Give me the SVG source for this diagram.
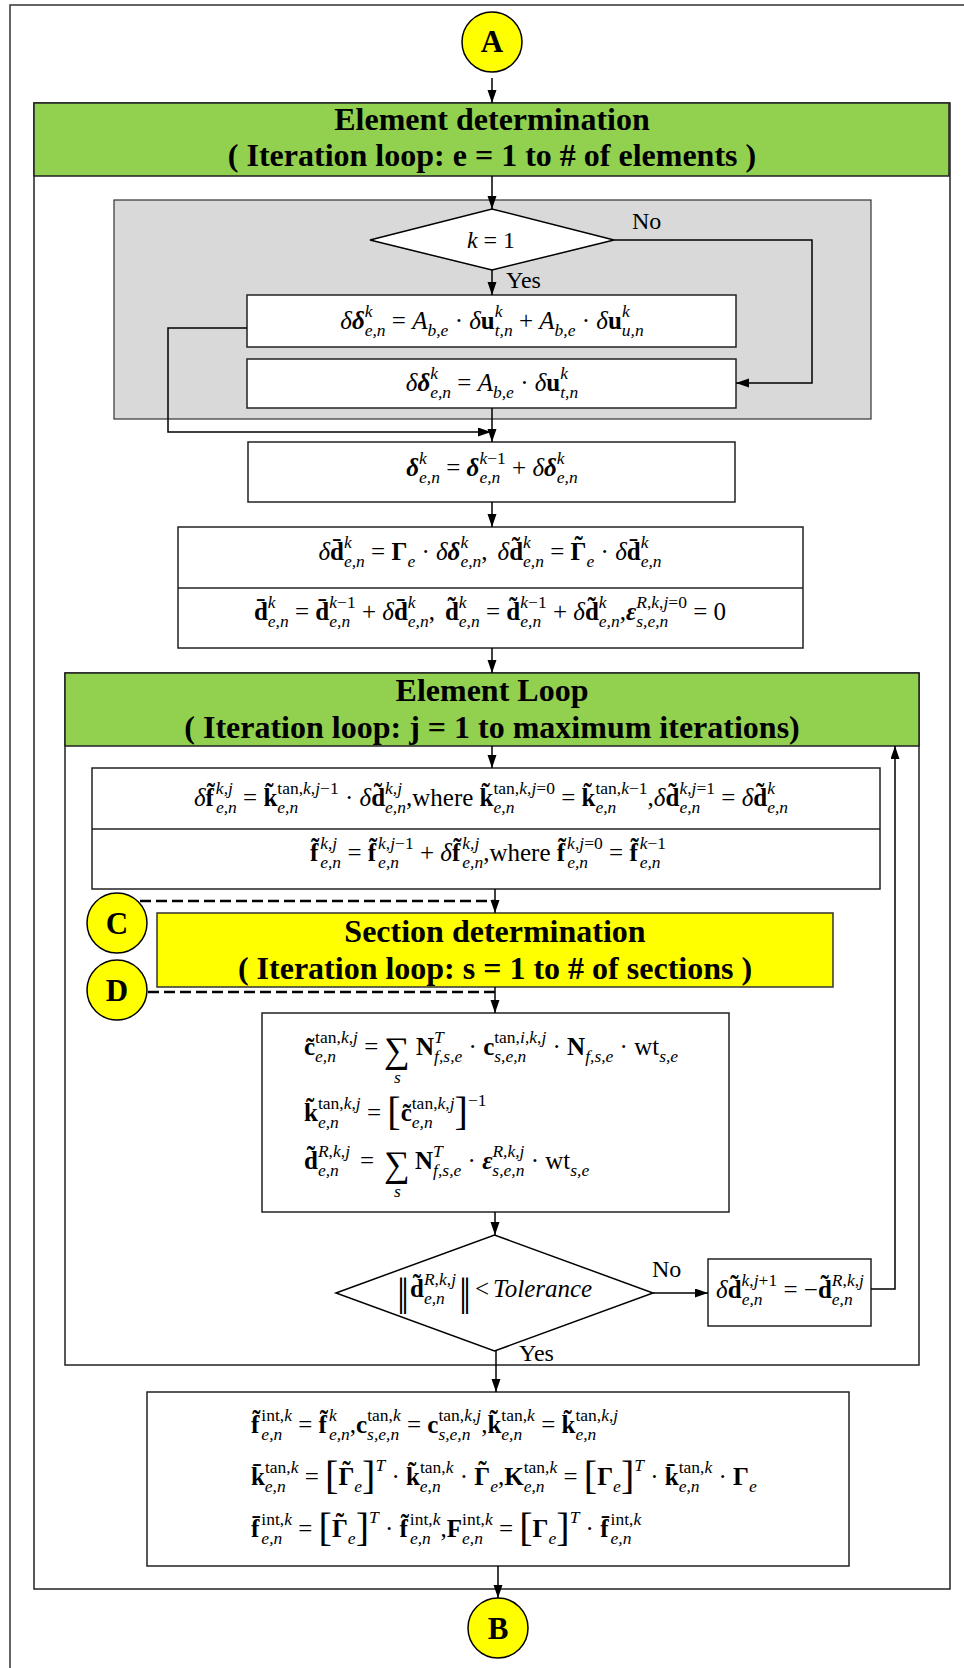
<svg xmlns="http://www.w3.org/2000/svg" width="964" height="1668" viewBox="0 0 964 1668">
<defs>
<style>
.f{font-family:"Liberation Serif","Times New Roman",serif;font-size:25px;fill:#000}
.t{font-family:"Liberation Serif","Times New Roman",serif;font-size:32px;font-weight:bold;fill:#000;text-anchor:middle}
.lbl{font-family:"Liberation Serif","Times New Roman",serif;font-size:24px;fill:#000}
.cl{font-family:"Liberation Serif","Times New Roman",serif;font-size:31px;font-weight:bold;fill:#000;text-anchor:middle}
.b{font-weight:bold}
.i{font-style:italic}
.bi{font-weight:bold;font-style:italic}
.s{font-size:17.5px}
.br{font-size:40px;font-weight:normal}
.box{fill:#fff;stroke:#222;stroke-width:1.5}
.circ{fill:#ff0;stroke:#000;stroke-width:1.5}
.conn path{stroke:#000;stroke-width:1.5;fill:none}
.conn .dash{stroke-dasharray:11 5;stroke-width:2.5}
.bar{font-family:"Liberation Serif",serif;font-size:40px;letter-spacing:-4px}
</style>
<marker id="ah" markerWidth="14" markerHeight="10" refX="13" refY="4.5" orient="auto" markerUnits="userSpaceOnUse"><path d="M0,0 L13,4.5 L0,9 z" fill="#000"/></marker>
</defs>
<rect x="0" y="0" width="964" height="1668" fill="#fff"/>
<rect x="10" y="5" width="1000" height="1700" fill="none" stroke="#333" stroke-width="1.5"/>

<g id="element-frame"><rect x="34" y="103" width="916" height="1486" class="box"/></g>
<g id="element-header"><rect x="34" y="103" width="915" height="73" fill="#92D050" stroke="#222" stroke-width="1.5"/><text class="t" x="492" y="130">Element determination</text><text class="t" x="492" y="166">( Iteration loop: e = 1 to # of elements )</text></g>

<g id="node-A"><ellipse cx="492" cy="42" rx="30" ry="30" class="circ"/><text class="cl" x="492" y="52">A</text></g>

<g id="gray-block"><rect x="114" y="200" width="757" height="219" fill="#D9D9D9" stroke="#333" stroke-width="1.2"/></g>

<g id="decision-k"><polygon points="370,240 492,209 614,240 492,270" fill="#fff" stroke="#000" stroke-width="1.5"/><text class="f" x="491" y="248" text-anchor="middle" style="font-size:24px"><tspan class="i">k</tspan> = 1</text></g>

<g id="box1"><rect x="247" y="295" width="489" height="52" class="box"/><text class="f" x="492" y="329" text-anchor="middle"><tspan class="i">δ</tspan><tspan class="bi">δ</tspan><tspan class="s i" dy="-12">k</tspan><tspan class="s i" dx="-7.8" dy="19">e,n</tspan><tspan dy="-7"> = </tspan><tspan class="i">A</tspan><tspan class="s i" dy="7">b,e</tspan><tspan dy="-7"> · </tspan><tspan class="i">δ</tspan><tspan class="b">u</tspan><tspan class="s i" dy="-12">k</tspan><tspan class="s i" dx="-7.8" dy="19">t,n</tspan><tspan dy="-7"> + </tspan><tspan class="i">A</tspan><tspan class="s i" dy="7">b,e</tspan><tspan dy="-7"> · </tspan><tspan class="i">δ</tspan><tspan class="b">u</tspan><tspan class="s i" dy="-12">k</tspan><tspan class="s i" dx="-7.8" dy="19">u,n</tspan></text></g>

<g id="box2"><rect x="247" y="359" width="489" height="49" class="box"/><text class="f" x="492" y="391" text-anchor="middle"><tspan class="i">δ</tspan><tspan class="bi">δ</tspan><tspan class="s i" dy="-12">k</tspan><tspan class="s i" dx="-7.8" dy="19">e,n</tspan><tspan dy="-7"> = </tspan><tspan class="i">A</tspan><tspan class="s i" dy="7">b,e</tspan><tspan dy="-7"> · </tspan><tspan class="i">δ</tspan><tspan class="b">u</tspan><tspan class="s i" dy="-12">k</tspan><tspan class="s i" dx="-7.8" dy="19">t,n</tspan></text></g>

<g id="box3"><rect x="248" y="442" width="487" height="60" class="box"/><text class="f" x="492" y="476" text-anchor="middle"><tspan class="bi">δ</tspan><tspan class="s i" dy="-12">k</tspan><tspan class="s i" dx="-7.8" dy="19">e,n</tspan><tspan dy="-7"> = </tspan><tspan class="bi">δ</tspan><tspan class="s" dy="-12"><tspan class="i">k</tspan>−1</tspan><tspan class="s i" dx="-26.4" dy="19">e,n</tspan><tspan dy="-7" dx="5.5"> + </tspan><tspan class="i">δ</tspan><tspan class="bi">δ</tspan><tspan class="s i" dy="-12">k</tspan><tspan class="s i" dx="-7.8" dy="19">e,n</tspan></text></g>

<g id="box4"><rect x="178" y="527" width="625" height="121" class="box"/><line x1="178" y1="588" x2="803" y2="588" stroke="#222" stroke-width="1.5"/><text class="f" x="490" y="560" text-anchor="middle"><tspan class="i">δ</tspan><tspan class="b">d&#x304;</tspan><tspan class="s i" dy="-12">k</tspan><tspan class="s i" dx="-7.8" dy="19">e,n</tspan><tspan dy="-7"> = </tspan><tspan class="b">Γ</tspan><tspan class="s i" dy="7">e</tspan><tspan dy="-7"> · </tspan><tspan class="i">δ</tspan><tspan class="bi">δ</tspan><tspan class="s i" dy="-12">k</tspan><tspan class="s i" dx="-7.8" dy="19">e,n</tspan><tspan dy="-7">,</tspan><tspan class="i" dx="10">δ</tspan><tspan class="b">d&#x303;</tspan><tspan class="s i" dy="-12">k</tspan><tspan class="s i" dx="-7.8" dy="19">e,n</tspan><tspan dy="-7"> = </tspan><tspan class="b">Γ</tspan><tspan class="b" dx="-12" dy="-6">˜</tspan><tspan class="s i" dx="3.7" dy="13">e</tspan><tspan dy="-7"> · </tspan><tspan class="i">δ</tspan><tspan class="b">d&#x304;</tspan><tspan class="s i" dy="-12">k</tspan><tspan class="s i" dx="-7.8" dy="19">e,n</tspan></text><text class="f" x="490" y="620" text-anchor="middle"><tspan class="b">d&#x304;</tspan><tspan class="s i" dy="-12">k</tspan><tspan class="s i" dx="-7.8" dy="19">e,n</tspan><tspan dy="-7"> = </tspan><tspan class="b">d&#x304;</tspan><tspan class="s" dy="-12"><tspan class="i">k</tspan>−1</tspan><tspan class="s i" dx="-26.4" dy="19">e,n</tspan><tspan dy="-7" dx="5.5"> + </tspan><tspan class="i">δ</tspan><tspan class="b">d&#x304;</tspan><tspan class="s i" dy="-12">k</tspan><tspan class="s i" dx="-7.8" dy="19">e,n</tspan><tspan dy="-7">,</tspan><tspan class="b" dx="10">d&#x303;</tspan><tspan class="s i" dy="-12">k</tspan><tspan class="s i" dx="-7.8" dy="19">e,n</tspan><tspan dy="-7"> = </tspan><tspan class="b">d&#x303;</tspan><tspan class="s" dy="-12"><tspan class="i">k</tspan>−1</tspan><tspan class="s i" dx="-26.4" dy="19">e,n</tspan><tspan dy="-7" dx="5.5"> + </tspan><tspan class="i">δ</tspan><tspan class="b">d&#x303;</tspan><tspan class="s i" dy="-12">k</tspan><tspan class="s i" dx="-7.8" dy="19">e,n</tspan><tspan dy="-7">,</tspan><tspan class="bi">ε</tspan><tspan class="s" dy="-12"><tspan class="i">R</tspan>,<tspan class="i">k</tspan>,<tspan class="i">j</tspan>=0</tspan><tspan class="s i" dx="-50.7" dy="19">s,e,n</tspan><tspan dy="-7" dx="18.6"> = 0</tspan></text></g>

<g id="loop-frame"><rect x="65" y="673" width="854" height="692" class="box"/></g>
<g id="loop-header"><rect x="65" y="673" width="854" height="73" fill="#92D050" stroke="#222" stroke-width="1.5"/><text class="t" x="492" y="701">Element Loop</text><text class="t" x="492" y="738">( Iteration loop: j = 1 to maximum iterations)</text></g>

<g id="box5"><rect x="92" y="768" width="788" height="121" class="box"/><line x1="92" y1="829" x2="880" y2="829" stroke="#222" stroke-width="1.5"/><text class="f" x="491" y="806" text-anchor="middle"><tspan class="i">δ</tspan><tspan class="b">f&#x303;</tspan><tspan class="s i" dx="2" dy="-12">k,j</tspan><tspan class="s i" dx="-17" dy="19">e,n</tspan><tspan dy="-7"> = </tspan><tspan class="b">k&#x303;</tspan><tspan class="s" dy="-12">tan,<tspan class="i">k</tspan>,<tspan class="i">j</tspan>−1</tspan><tspan class="s i" dx="-61.4" dy="19">e,n</tspan><tspan dy="-7" dx="40.5"> · </tspan><tspan class="i">δ</tspan><tspan class="b">d&#x303;</tspan><tspan class="s i" dy="-12">k,j</tspan><tspan class="s i" dx="-17" dy="19">e,n</tspan><tspan dy="-7">,where </tspan><tspan class="b">k&#x303;</tspan><tspan class="s" dy="-12">tan,<tspan class="i">k</tspan>,<tspan class="i">j</tspan>=0</tspan><tspan class="s i" dx="-61.4" dy="19">e,n</tspan><tspan dy="-7" dx="40.5"> = </tspan><tspan class="b">k&#x303;</tspan><tspan class="s" dy="-12">tan,<tspan class="i">k</tspan>−1</tspan><tspan class="s i" dx="-52.2" dy="19">e,n</tspan><tspan dy="-7" dx="31.3">,</tspan><tspan class="i">δ</tspan><tspan class="b">d&#x303;</tspan><tspan class="s" dy="-12"><tspan class="i">k</tspan>,<tspan class="i">j</tspan>=1</tspan><tspan class="s i" dx="-35.6" dy="19">e,n</tspan><tspan dy="-7" dx="14.7"> = </tspan><tspan class="i">δ</tspan><tspan class="b">d&#x303;</tspan><tspan class="s i" dy="-12">k</tspan><tspan class="s i" dx="-7.8" dy="19">e,n</tspan></text><text class="f" x="488" y="861" text-anchor="middle"><tspan class="b">f&#x303;</tspan><tspan class="s i" dx="2" dy="-12">k,j</tspan><tspan class="s i" dx="-17" dy="19">e,n</tspan><tspan dy="-7"> = </tspan><tspan class="b">f&#x303;</tspan><tspan class="s" dx="2" dy="-12"><tspan class="i">k</tspan>,<tspan class="i">j</tspan>−1</tspan><tspan class="s i" dx="-35.6" dy="19">e,n</tspan><tspan dy="-7" dx="14.7"> + </tspan><tspan class="i">δ</tspan><tspan class="b">f&#x303;</tspan><tspan class="s i" dx="2" dy="-12">k,j</tspan><tspan class="s i" dx="-17" dy="19">e,n</tspan><tspan dy="-7">,where </tspan><tspan class="b">f&#x303;</tspan><tspan class="s" dx="2" dy="-12"><tspan class="i">k</tspan>,<tspan class="i">j</tspan>=0</tspan><tspan class="s i" dx="-35.6" dy="19">e,n</tspan><tspan dy="-7" dx="14.7"> = </tspan><tspan class="b">f&#x303;</tspan><tspan class="s" dx="2" dy="-12"><tspan class="i">k</tspan>−1</tspan><tspan class="s i" dx="-26.4" dy="19">e,n</tspan></text></g>

<g id="node-C"><ellipse cx="117" cy="923" rx="30" ry="30" class="circ"/><text class="cl" x="117" y="934">C</text></g>
<g id="node-D"><ellipse cx="117" cy="990" rx="30" ry="30" class="circ"/><text class="cl" x="117" y="1001">D</text></g>

<g id="section-header"><rect x="157" y="913" width="676" height="74" fill="#FFFF00" stroke="#333" stroke-width="1.5"/><text class="t" x="495" y="942">Section determination</text><text class="t" x="495" y="979">( Iteration loop: s = 1 to # of sections )</text></g>

<g id="box6"><rect x="262" y="1013" width="467" height="199" class="box"/><text class="f" x="304" y="1055"><tspan class="b">c&#x303;</tspan><tspan class="s" dy="-12">tan,<tspan class="i">k</tspan>,<tspan class="i">j</tspan></tspan><tspan class="s i" dx="-42.8" dy="19">e,n</tspan><tspan dy="-7" dx="21.9"> =</tspan></text><text class="f" x="384" y="1062" style="font-size:36px">∑</text><text class="f i" x="394" y="1083" style="font-size:17.5px">s</text><text class="f" x="416" y="1055"><tspan class="b">N</tspan><tspan class="s i" dy="-12">T</tspan><tspan class="s i" dx="-9.7" dy="19">f,s,e</tspan><tspan dy="-7"> · </tspan><tspan class="b">c</tspan><tspan class="s" dy="-12">tan,<tspan class="i">i</tspan>,<tspan class="i">k</tspan>,<tspan class="i">j</tspan></tspan><tspan class="s i" dx="-52" dy="19">s,e,n</tspan><tspan dy="-7" dx="19.9"> · </tspan><tspan class="b">N</tspan><tspan class="s i" dy="7">f,s,e</tspan><tspan dy="-7"> · wt</tspan><tspan class="s i" dy="7">s,e</tspan></text><text class="f" x="304" y="1121"><tspan class="b">k&#x303;</tspan><tspan class="s" dy="-12">tan,<tspan class="i">k</tspan>,<tspan class="i">j</tspan></tspan><tspan class="s i" dx="-42.8" dy="19">e,n</tspan><tspan dy="-7" dx="21.9"> = </tspan><tspan class="br" dy="4">[</tspan><tspan class="b" dy="-4">c&#x303;</tspan><tspan class="s" dy="-12">tan,<tspan class="i">k</tspan>,<tspan class="i">j</tspan></tspan><tspan class="s i" dx="-42.8" dy="19">e,n</tspan><tspan class="br" dy="-3" dx="21.9">]</tspan><tspan class="s" dy="-19">−1</tspan></text><text class="f" x="304" y="1169"><tspan class="b">d&#x303;</tspan><tspan class="s" dy="-12"><tspan class="i">R</tspan>,<tspan class="i">k</tspan>,<tspan class="i">j</tspan></tspan><tspan class="s i" dx="-32.1" dy="19">e,n</tspan><tspan dy="-7" dx="15"> =</tspan></text><text class="f" x="384" y="1176" style="font-size:36px">∑</text><text class="f i" x="394" y="1197" style="font-size:17.5px">s</text><text class="f" x="415" y="1169"><tspan class="b">N</tspan><tspan class="s i" dy="-12">T</tspan><tspan class="s i" dx="-9.7" dy="19">f,s,e</tspan><tspan dy="-7"> · </tspan><tspan class="bi">ε</tspan><tspan class="s i" dy="-12">R,k,j</tspan><tspan class="s i" dx="-32.1" dy="19">s,e,n</tspan><tspan dy="-7"> · wt</tspan><tspan class="s i" dy="7">s,e</tspan></text></g>

<g id="decision-tol"><polygon points="336,1293 494.5,1235 653,1293 494.5,1351" fill="#fff" stroke="#000" stroke-width="1.5"/><text class="bar" x="397" y="1305">||</text><text class="f" x="410" y="1297"><tspan class="b">d&#x303;</tspan><tspan class="s" dy="-12"><tspan class="i">R</tspan>,<tspan class="i">k</tspan>,<tspan class="i">j</tspan></tspan><tspan class="s i" dx="-32.1" dy="19">e,n</tspan></text><text class="bar" x="459" y="1305">||</text><text class="f" x="475" y="1297">&lt;<tspan class="i" dx="4">Tolerance</tspan></text></g>

<g id="box7"><rect x="708" y="1259" width="163" height="67" class="box"/><text class="f" x="790" y="1298" text-anchor="middle"><tspan class="i">δ</tspan><tspan class="b">d&#x303;</tspan><tspan class="s" dy="-12"><tspan class="i">k</tspan>,<tspan class="i">j</tspan>+1</tspan><tspan class="s i" dx="-35.6" dy="19">e,n</tspan><tspan dy="-7" dx="14.7"> = −</tspan><tspan class="b">d&#x303;</tspan><tspan class="s" dy="-12"><tspan class="i">R</tspan>,<tspan class="i">k</tspan>,<tspan class="i">j</tspan></tspan><tspan class="s i" dx="-32.1" dy="19">e,n</tspan></text></g>

<g id="box8"><rect x="147" y="1392" width="702" height="174" class="box"/><text class="f" x="251" y="1433"><tspan class="b">f&#x303;</tspan><tspan class="s" dx="2" dy="-12">int,<tspan class="i">k</tspan></tspan><tspan class="s i" dx="-30.6" dy="19">e,n</tspan><tspan dy="-7" dx="9.7"> = </tspan><tspan class="b">f&#x303;</tspan><tspan class="s i" dx="2" dy="-12">k</tspan><tspan class="s i" dx="-7.8" dy="19">e,n</tspan><tspan dy="-7">,</tspan><tspan class="b">c</tspan><tspan class="s" dy="-12">tan,<tspan class="i">k</tspan></tspan><tspan class="s i" dx="-33.6" dy="19">s,e,n</tspan><tspan dy="-7" dx="1.5"> = </tspan><tspan class="b">c</tspan><tspan class="s" dy="-12">tan,<tspan class="i">k</tspan>,<tspan class="i">j</tspan></tspan><tspan class="s i" dx="-42.8" dy="19">s,e,n</tspan><tspan dy="-7" dx="10.7">,</tspan><tspan class="b">k&#x303;</tspan><tspan class="s" dy="-12">tan,<tspan class="i">k</tspan></tspan><tspan class="s i" dx="-33.6" dy="19">e,n</tspan><tspan dy="-7" dx="12.7"> = </tspan><tspan class="b">k&#x303;</tspan><tspan class="s" dy="-12">tan,<tspan class="i">k</tspan>,<tspan class="i">j</tspan></tspan><tspan class="s i" dx="-42.8" dy="19">e,n</tspan></text><text class="f" x="251" y="1485"><tspan class="b">k&#x304;</tspan><tspan class="s" dy="-12">tan,<tspan class="i">k</tspan></tspan><tspan class="s i" dx="-33.6" dy="19">e,n</tspan><tspan dy="-7" dx="12.7"> = </tspan><tspan class="br" dy="4">[</tspan><tspan class="b" dy="-4">Γ</tspan><tspan class="b" dx="-12" dy="-6">˜</tspan><tspan class="s i" dx="3.7" dy="13">e</tspan><tspan class="br" dy="-3">]</tspan><tspan class="s i" dy="-18">T</tspan><tspan dy="14"> · </tspan><tspan class="b">k&#x303;</tspan><tspan class="s" dy="-12">tan,<tspan class="i">k</tspan></tspan><tspan class="s i" dx="-33.6" dy="19">e,n</tspan><tspan dy="-7" dx="12.7"> · </tspan><tspan class="b">Γ</tspan><tspan class="b" dx="-12" dy="-6">˜</tspan><tspan class="s i" dx="3.7" dy="13">e</tspan><tspan dy="-7">,</tspan><tspan class="b">K</tspan><tspan class="s" dy="-12">tan,<tspan class="i">k</tspan></tspan><tspan class="s i" dx="-33.6" dy="19">e,n</tspan><tspan dy="-7" dx="12.7"> = </tspan><tspan class="br" dy="4">[</tspan><tspan class="b" dy="-4">Γ</tspan><tspan class="s i" dy="7">e</tspan><tspan class="br" dy="-3">]</tspan><tspan class="s i" dy="-18">T</tspan><tspan dy="14"> · </tspan><tspan class="b">k&#x304;</tspan><tspan class="s" dy="-12">tan,<tspan class="i">k</tspan></tspan><tspan class="s i" dx="-33.6" dy="19">e,n</tspan><tspan dy="-7" dx="12.7"> · </tspan><tspan class="b">Γ</tspan><tspan class="s i" dy="7">e</tspan></text><text class="f" x="251" y="1537"><tspan class="b">f&#x304;</tspan><tspan class="s" dx="2" dy="-12">int,<tspan class="i">k</tspan></tspan><tspan class="s i" dx="-30.6" dy="19">e,n</tspan><tspan dy="-7" dx="9.7"> = </tspan><tspan class="br" dy="4">[</tspan><tspan class="b" dy="-4">Γ</tspan><tspan class="b" dx="-12" dy="-6">˜</tspan><tspan class="s i" dx="3.7" dy="13">e</tspan><tspan class="br" dy="-3">]</tspan><tspan class="s i" dy="-18">T</tspan><tspan dy="14"> · </tspan><tspan class="b">f&#x303;</tspan><tspan class="s" dx="2" dy="-12">int,<tspan class="i">k</tspan></tspan><tspan class="s i" dx="-30.6" dy="19">e,n</tspan><tspan dy="-7" dx="9.7">,</tspan><tspan class="b">F</tspan><tspan class="s" dy="-12">int,<tspan class="i">k</tspan></tspan><tspan class="s i" dx="-30.6" dy="19">e,n</tspan><tspan dy="-7" dx="9.7"> = </tspan><tspan class="br" dy="4">[</tspan><tspan class="b" dy="-4">Γ</tspan><tspan class="s i" dy="7">e</tspan><tspan class="br" dy="-3">]</tspan><tspan class="s i" dy="-18">T</tspan><tspan dy="14"> · </tspan><tspan class="b">f&#x304;</tspan><tspan class="s" dx="2" dy="-12">int,<tspan class="i">k</tspan></tspan><tspan class="s i" dx="-30.6" dy="19">e,n</tspan></text></g>

<g id="node-B"><ellipse cx="498" cy="1628" rx="30" ry="30" class="circ"/><text class="cl" x="498" y="1639">B</text></g>

<g id="connectors" class="conn">
<path d="M492,78 V103" marker-end="url(#ah)"/>
<path d="M492,176 V209" marker-end="url(#ah)"/>
<path d="M492,270 V295" marker-end="url(#ah)"/>
<path d="M614,240 H812 V383 H736" marker-end="url(#ah)"/>
<path d="M492,408 V442" marker-end="url(#ah)"/>
<path d="M247,328 H168 V432 H491" marker-end="url(#ah)"/>
<path d="M492,502 V527" marker-end="url(#ah)"/>
<path d="M492,648 V673" marker-end="url(#ah)"/>
<path d="M492,746 V768" marker-end="url(#ah)"/>
<path d="M495,889 V913" marker-end="url(#ah)"/>
<path class="dash" d="M140,901 H495"/>
<path d="M495,987 V1013" marker-end="url(#ah)"/>
<path class="dash" d="M148,992 H495"/>
<path d="M495,1212 V1235" marker-end="url(#ah)"/>
<path d="M653,1293 H708" marker-end="url(#ah)"/>
<path d="M871,1289 H895 V746" marker-end="url(#ah)"/>
<path d="M496,1351 V1392" marker-end="url(#ah)"/>
<path d="M498,1566 V1598" marker-end="url(#ah)"/>
<text class="lbl" x="632" y="229">No</text>
<text class="lbl" x="506" y="288">Yes</text>
<text class="lbl" x="652" y="1277">No</text>
<text class="lbl" x="519" y="1361">Yes</text>
</g>
</svg>
